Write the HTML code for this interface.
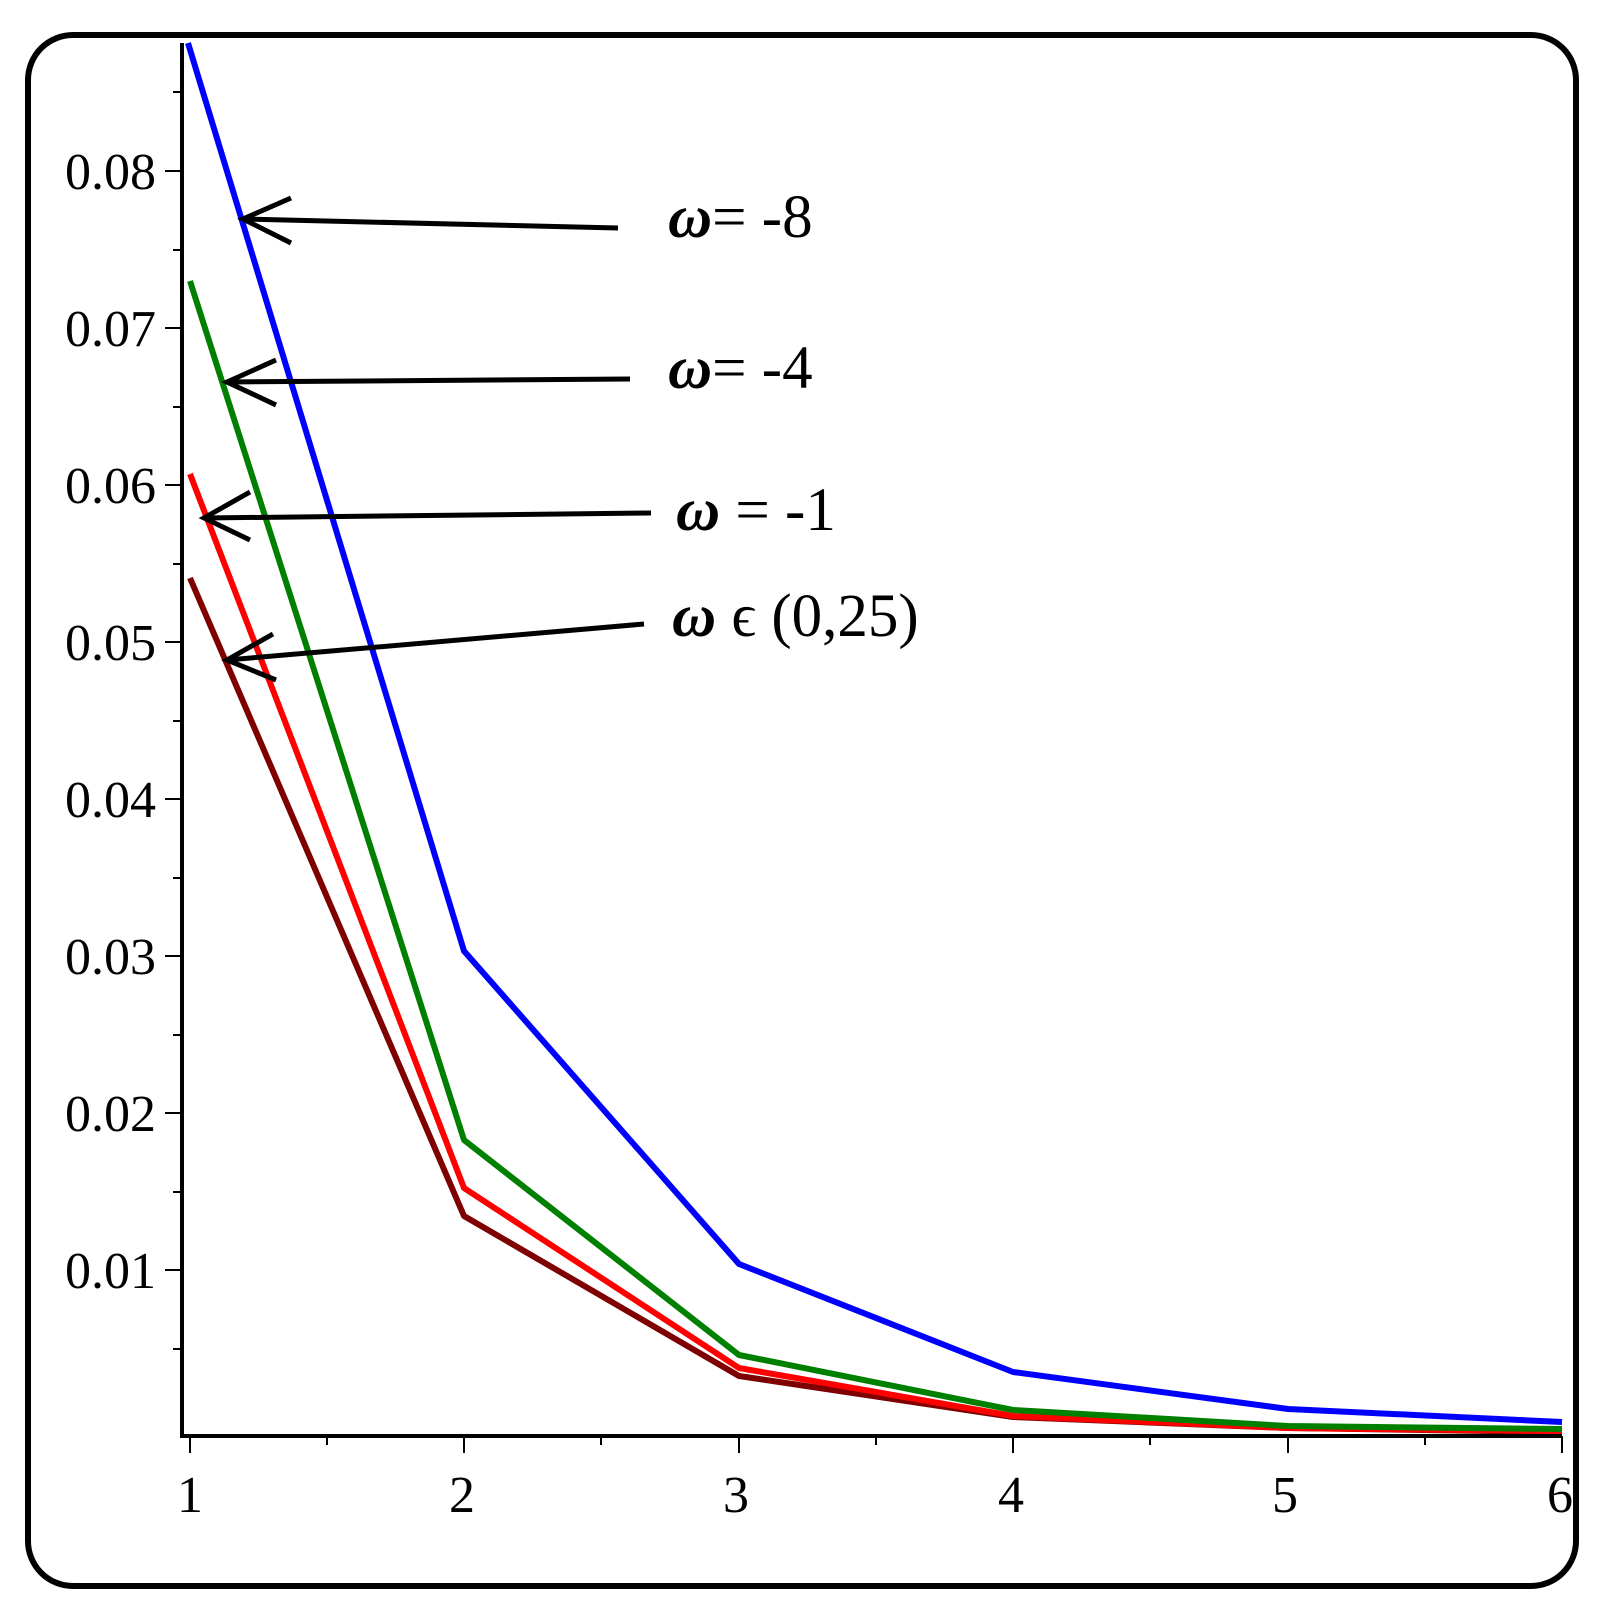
<!DOCTYPE html>
<html><head><style>body{margin:0;background:#fff}svg{display:block}</style></head><body>
<svg width="1607" height="1615" viewBox="0 0 1607 1615" xmlns="http://www.w3.org/2000/svg">
<rect x="0" y="0" width="1607" height="1615" fill="#fff"/>
<rect x="28" y="35" width="1548" height="1551" rx="45" ry="45" fill="none" stroke="#000" stroke-width="6"/>
<g stroke="#000" stroke-width="2">
<line x1="165" y1="171" x2="182" y2="171"/><line x1="165" y1="328" x2="182" y2="328"/><line x1="165" y1="485" x2="182" y2="485"/><line x1="165" y1="642" x2="182" y2="642"/><line x1="165" y1="799" x2="182" y2="799"/><line x1="165" y1="956" x2="182" y2="956"/><line x1="165" y1="1113" x2="182" y2="1113"/><line x1="165" y1="1270" x2="182" y2="1270"/>
<line x1="173" y1="92" x2="182" y2="92"/><line x1="173" y1="250" x2="182" y2="250"/><line x1="173" y1="407" x2="182" y2="407"/><line x1="173" y1="564" x2="182" y2="564"/><line x1="173" y1="721" x2="182" y2="721"/><line x1="173" y1="878" x2="182" y2="878"/><line x1="173" y1="1035" x2="182" y2="1035"/><line x1="173" y1="1192" x2="182" y2="1192"/><line x1="173" y1="1349" x2="182" y2="1349"/>
<line x1="190" y1="1436" x2="190" y2="1453"/><line x1="464" y1="1436" x2="464" y2="1453"/><line x1="739" y1="1436" x2="739" y2="1453"/><line x1="1013" y1="1436" x2="1013" y2="1453"/><line x1="1288" y1="1436" x2="1288" y2="1453"/><line x1="1562" y1="1436" x2="1562" y2="1453"/>
<line x1="327" y1="1436" x2="327" y2="1445"/><line x1="601" y1="1436" x2="601" y2="1445"/><line x1="876" y1="1436" x2="876" y2="1445"/><line x1="1150" y1="1436" x2="1150" y2="1445"/><line x1="1425" y1="1436" x2="1425" y2="1445"/>
</g>
<g fill="none" stroke-width="6" stroke-linejoin="round">
<polyline stroke="#7f0000" points="190,578 464,1216 739,1376 1013,1417 1288,1428 1562,1432"/>
<polyline stroke="#ff0000" points="190,474 464,1188 739,1368 1013,1416 1288,1428 1562,1431"/>
<polyline stroke="#008000" points="190,281 464,1140 739,1355 1013,1410 1288,1426 1562,1429"/>
<polyline stroke="#0000ff" points="188,43 464,951 739,1264 1013,1372 1288,1409 1562,1422"/>
</g>
<line x1="182" y1="43" x2="182" y2="1438" stroke="#000" stroke-width="4"/>
<line x1="180" y1="1436" x2="1562" y2="1436" stroke="#000" stroke-width="4"/>
<g font-family="Liberation Serif, serif" font-size="52" fill="#000" text-anchor="end">
<text x="156" y="189">0.08</text><text x="156" y="346">0.07</text><text x="156" y="503">0.06</text><text x="156" y="660">0.05</text><text x="156" y="817">0.04</text><text x="156" y="974">0.03</text><text x="156" y="1131">0.02</text><text x="156" y="1288">0.01</text>
</g>
<g font-family="Liberation Serif, serif" font-size="52" fill="#000" text-anchor="middle">
<text x="190" y="1512">1</text><text x="462" y="1512">2</text><text x="736" y="1512">3</text><text x="1011" y="1512">4</text><text x="1285" y="1512">5</text><text x="1560" y="1512">6</text>
</g>
<g stroke="#000" stroke-width="5" fill="none">
<line x1="618" y1="228" x2="243" y2="219"/><polyline points="291,198 243,219 291,243"/>
<line x1="630" y1="379" x2="227" y2="382"/><polyline points="276,360 227,382 276,405"/>
<line x1="651" y1="513" x2="204" y2="518"/><polyline points="250,492 204,518 250,540"/>
<line x1="644" y1="624" x2="227" y2="660"/><polyline points="273,634 227,660 276,680"/>
</g>
<g font-family="Liberation Serif, serif" font-size="61" fill="#000">
<text x="668" y="237"><tspan font-style="italic" font-weight="bold">ω</tspan>= -8</text>
<text x="668" y="388"><tspan font-style="italic" font-weight="bold">ω</tspan>= -4</text>
<text x="676" y="530"><tspan font-style="italic" font-weight="bold">ω</tspan> = -1</text>
<text x="672" y="636"><tspan font-style="italic" font-weight="bold">ω</tspan> ϵ (0,25)</text>
</g>
</svg>
</body></html>
